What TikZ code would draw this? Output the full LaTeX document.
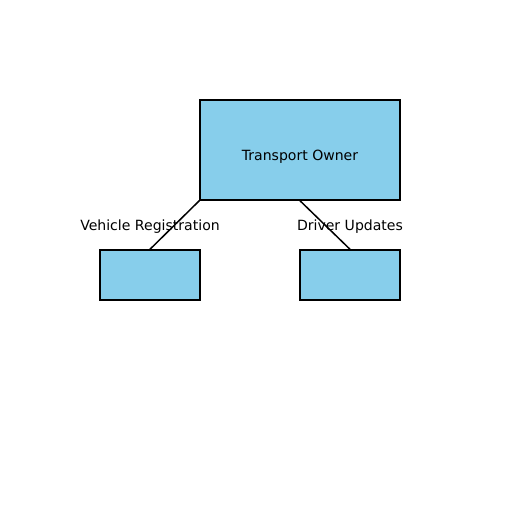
\documentclass[tikz,border=0pt]{standalone}
\usepackage{fontspec}
\setmainfont{DejaVu Sans}
\usetikzlibrary{positioning}
\definecolor{skyblue}{RGB}{135,206,235}

\begin{document}
\begin{tikzpicture}[x=0.02cm, y=-0.02cm,
	box/.style={draw=black, fill=skyblue, line width=0.85pt, inner sep=0pt},
	lbl/.style={font=\fontsize{8}{9.6}\selectfont, inner sep=0pt}]
	\useasboundingbox (0,0) rectangle (512,512);
	\node[box, minimum width=4cm, minimum height=2cm, font=\fontsize{8}{9.6}\selectfont, text height=11.4pt, text depth=0pt] (owner) at (300,150) {Transport Owner};
	\node[box, minimum width=2cm, minimum height=1cm] (vehicle) at (150,275) {};
	\node[box, minimum width=2cm, minimum height=1cm] (driver) at (350,275) {};
	\draw[line width=0.85pt] (owner.south west) -- (vehicle.north) ;
	\draw[line width=0.85pt] (owner.south) -- (driver.north) ;
	\node[lbl, anchor=base] (vehiclelbl) at (150,230.5) {Vehicle Registration};
	\node[lbl, anchor=base] (driverlbl) at (350,230.5) {Driver Updates};
\end{tikzpicture}
\end{document}
